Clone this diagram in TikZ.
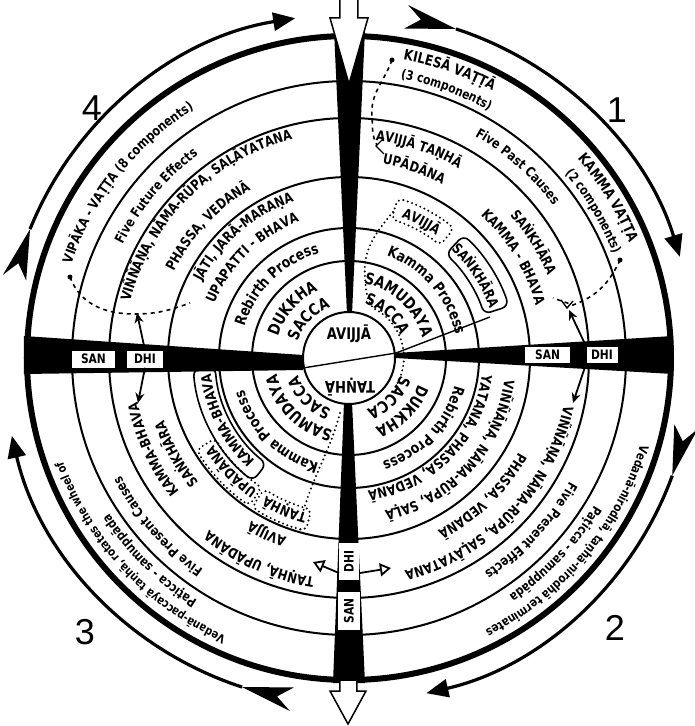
\documentclass[tikz,border=0pt]{standalone}
\usepackage{fontspec}
\newfontfamily\cf{DejaVu Sans}[FakeStretch=0.82]
\newfontfamily\numf{Liberation Sans}
\usetikzlibrary{decorations.text,arrows.meta}
\newcommand\fs[1]{\cf\bfseries\fontsize{#1}{#1}\selectfont}
\newcommand\arctext[4]{\path[decorate,decoration={text along path,text align=center,text={|\fs{#3}|#4}}] ({#2+80}:#1pt) arc[start angle={#2+80},end angle={#2-80},radius=#1pt];}
\tikzset{
  ring/.style={line width=2pt},
  wedge/.style={fill=black},
  sd/.style={fill=white,inner sep=0pt,font=\fs{13}},
  dsh/.style={line width=1.6pt,dash pattern=on 4pt off 4pt},
  dots/.style={line width=2.2pt,dash pattern=on 0pt off 4.5pt,line cap=round},
  ptr/.style={line width=1.8pt,-{Stealth[length=10pt,width=9pt]}},
  optr/.style={line width=1.8pt,-{Triangle[open,length=11pt,width=13pt]}},
  orbit/.style={line width=3.2pt,-{Triangle[length=22pt,width=18pt]}},
  box/.style={line width=1.6pt,rounded corners=7pt},
  num/.style={font=\numf\fontsize{36}{36}\selectfont}
}
\begin{document}
\begin{tikzpicture}[x=1pt,y=1pt]
\useasboundingbox (-349,-368) rectangle (345,358);
% rings
\foreach \r in {277,240,181,130,97} \draw[ring] (0,0) circle[radius=\r pt];
\draw[line width=6pt] (0,0) circle[radius=322pt];
% wedges
\fill[wedge] (-325,22) -- (-46,3) -- (-46,-12) -- (-325,-16) -- cycle;
\fill[wedge] (46,5) -- (324,22) -- (324,-16) -- (46,0) -- cycle;
\fill[wedge] (-15,328) -- (16,328) -- (3,44) -- (-2,44) -- cycle;
\fill[wedge] (-5,-44) -- (3,-44) -- (16,-325) -- (-16,-325) -- cycle;
% inner circle
\draw[ring,fill=white] (0,0) circle[radius=46pt];
\coordinate (cl) at (-46,-10);
\coordinate (cr) at (47,5);
\coordinate (sk) at (141,41);
\draw[line width=1.4pt] (cl) -- (cr) -- (sk);
% ---------- Q1
\arctext{303}{70.7}{14.5}{KILESĀ VAṬṬĀ}
\arctext{284}{70}{13}{(3 components)}
\arctext{303}{31.7}{14.5}{KAMMA VAṬṬA}
\arctext{284}{31}{13}{(2 components)}
\arctext{255}{48.6}{13.5}{Five Past Causes}
\arctext{219}{71.5}{14}{AVIJJĀ TAṆHĀ}
\arctext{197}{71}{14}{UPĀDĀNA}
\arctext{215}{32}{14}{SAṄKHĀRA}
\arctext{194}{31.5}{14}{KAMMA - BHAVA}
\arctext{150}{62}{14}{AVIJJĀ}
\arctext{149}{33}{14}{SAṄKHĀRA}
\arctext{109}{41}{15}{Kamma Process}
\arctext{76}{47}{16}{SAMUDAYA}
\arctext{56}{49}{16}{SACCA}
% ---------- Q4
\arctext{293}{141.6}{13.5}{VIPĀKA - VAṬṬA (8 components)}
\arctext{253}{140}{13.5}{Five Future Effects}
\arctext{226}{135}{14}{VIÑÑĀṆA, NĀMA-RŪPA, SAḶĀYATANA}
\arctext{195}{137}{14}{PHASSA, VEDANĀ}
\arctext{166}{131}{14}{JĀTI, JARĀ-MARAṆA}
\arctext{145}{134}{14}{UPAPATTI - BHAVA}
\arctext{109}{134.5}{15}{Rebirth Process}
\arctext{74}{139}{16}{DUKKHA}
\arctext{54}{136}{16}{SACCA}
% ---------- Q2
\arctext{304}{-40}{12.5}{Vedanā-nirodhā, taṇhā-nirodhā terminates}
\arctext{286}{-43.5}{13}{Paṭicca - samuppāda}
\arctext{253}{-43.5}{13.5}{Five Present Effects}
\arctext{220}{-44}{14}{VIÑÑĀṆA, NĀMA-RŪPA, SAḶĀYATANA}
\arctext{194}{-46}{14}{PHASSA, VEDANĀ}
\arctext{157}{-42.5}{14}{VIÑÑĀṆA, NĀMA-RŪPA, SAḶĀ}
\arctext{134}{-44.6}{14}{YATANA, PHASSA, VEDANĀ}
\arctext{109}{-43.5}{15}{Rebirth Process}
\arctext{74}{-45}{16}{DUKKHA}
\arctext{54}{-45}{16}{SACCA}
% ---------- Q3
\arctext{304}{-137}{12}{Vedanā-paccayā taṇhā, rotates the wheel of}
\arctext{286}{-134.5}{13}{Paṭicca - samuppāda}
\arctext{257}{-138.6}{13.5}{Five Present Causes}
\arctext{222}{-114}{14}{TAṆHĀ, UPĀDĀNA}
\arctext{216}{-155}{14}{KAMMA-BHAVA}
\arctext{190}{-115}{14}{AVIJJĀ}
\arctext{195}{-151}{14}{SAṄKHĀRA}
\arctext{161}{-113}{14}{TAṆHĀ}
\arctext{161}{-136}{14}{UPĀDĀNA}
\arctext{139}{-153}{14}{KAMMA-BHAVA}
\arctext{110}{-134.5}{15}{Kamma Process}
\arctext{74}{-135}{16}{SAMUDAYA}
\arctext{54}{-135}{16}{SACCA}
% inner circle text
\node[font=\fs{16}] (av) at (0,24) {AVIJJĀ};
\node[font=\fs{16},rotate=180] (ta) at (1,-29) {TAṆHĀ};
% boxes
\draw[box] (47:168pt) arc[start angle=47,end angle=18,radius=168pt] -- (18:142pt) arc[start angle=18,end angle=47,radius=142pt] -- cycle;
\draw[dots,rounded corners=6pt] (73:167pt) arc[start angle=73,end angle=51,radius=167pt] -- (51:145pt) arc[start angle=51,end angle=73,radius=145pt] -- cycle;
\draw[dots,rounded corners=6pt] (-104:178pt) arc[start angle=-104,end angle=-123,radius=178pt] -- (-123:156pt) arc[start angle=-123,end angle=-104,radius=156pt] -- cycle;
\draw[dots,rounded corners=6pt] (-124:178pt) arc[start angle=-124,end angle=-149,radius=178pt] -- (-149:156pt) arc[start angle=-149,end angle=-124,radius=156pt] -- cycle;
\draw[box] (-128:156pt) arc[start angle=-128,end angle=-176,radius=156pt] -- (-176:134pt) arc[start angle=-176,end angle=-128,radius=134pt] -- cycle;
% dotted links
\draw[dots] (44,146) to[out=230,in=95] (16,80) to[out=-85,in=125] (24,50) arc[start angle=64,end angle=-35,radius=55pt];
\draw[dots] (-9,-55) to[out=-105,in=75] (-47,-158);
% dashed links
\coordinate (kd) at (43,298);
\fill (kd) circle[radius=2.5pt];
\draw[dsh] (kd) to[out=-110,in=95] (23,241) to[out=-85,in=120] (28,213);
\draw[line width=1.4pt] (35,220) -- (27,212) -- (35,204);
\coordinate (md) at (271,98);
\fill (md) circle[radius=2.5pt];
\draw[dsh] (md) to[out=-115,in=20] (224,53) to[out=160,in=-20] (204,60);
\draw[line width=1.4pt] (212,58) -- (218,50) -- (224,57);
\coordinate (vd) at (-279,81);
\fill (vd) circle[radius=2.5pt];
\draw[dsh] (vd) to[out=-70,in=180] (-215,44) to[out=0,in=200] (-159,55);
% sandhi boxes
\node[sd,minimum width=43pt,minimum height=17pt] (sanL) at (-255.5,-1) {SAN};
\node[sd,minimum width=36pt,minimum height=17pt] (dhiL) at (-204,-1) {DHI};
\node[sd,minimum width=45pt,minimum height=16pt] (sanR) at (198.5,3) {SAN};
\node[sd,minimum width=31pt,minimum height=16pt] (dhiR) at (253,3) {DHI};
\node[sd,minimum width=37pt,minimum height=20pt,rotate=90] (dhiB) at (0,-203.5) {DHI};
\node[sd,minimum width=38pt,minimum height=22pt,rotate=90] (sanB) at (0,-253) {SAN};
% sandhi pointers
\coordinate (p1) at (-212,45); \coordinate (p2) at (-211,-45);
\coordinate (p3) at (220,48);  \coordinate (p4) at (224,-45);
\coordinate (b1) at (-10,-215); \coordinate (b2) at (11,-215);
\coordinate (p5) at (-36,-204); \coordinate (p6) at (42,-210);
\draw[ptr] (dhiL.north) -- (p1);
\draw[ptr] (dhiL.south) -- (p2);
\draw[ptr] (dhiR.north west) -- (p3);
\draw[ptr] (dhiR.south west) -- (p4);
\draw[optr] (b1) -- (p5);
\draw[optr] (b2) -- (p6);
% outer orbit arrows
\draw[orbit] (72:346pt) arc[start angle=72,end angle=17,radius=346pt];
\fill (80.5:358pt) -- (72:346pt) -- (80.5:334pt) -- (78:346pt) -- cycle;
\draw[orbit] (-20:344pt) arc[start angle=-20,end angle=-77,radius=344pt];
\fill (-11.5:356pt) -- (-20:344pt) -- (-11.5:332pt) -- (-14:344pt) -- cycle;
\draw[orbit] (-108:346pt) arc[start angle=-108,end angle=-167,radius=346pt];
\fill (-99.5:358pt) -- (-108:346pt) -- (-99.5:334pt) -- (-102:346pt) -- cycle;
\draw[orbit] (158:344pt) arc[start angle=158,end angle=99,radius=344pt];
\fill (166.5:356pt) -- (158:344pt) -- (166.5:332pt) -- (164:344pt) -- cycle;
% top and bottom white arrows
\draw[line width=1.5pt,fill=white] (-9,360) -- (9,360) -- (9,340) -- (19,340) -- (0,274) -- (-19,340) -- (-9,340) -- cycle;
\draw[line width=1.5pt,fill=white] (-9,-322) -- (8,-322) -- (8,-333) -- (17,-333) -- (-1,-366) -- (-19,-333) -- (-9,-333) -- cycle;
% numbers
\node[num] (n1) at (268,248) {1};
\node[num] (n2) at (266,-270) {2};
\node[num] (n3) at (-264,-274) {3};
\node[num] (n4) at (-257,250) {4};
\end{tikzpicture}
\end{document}
